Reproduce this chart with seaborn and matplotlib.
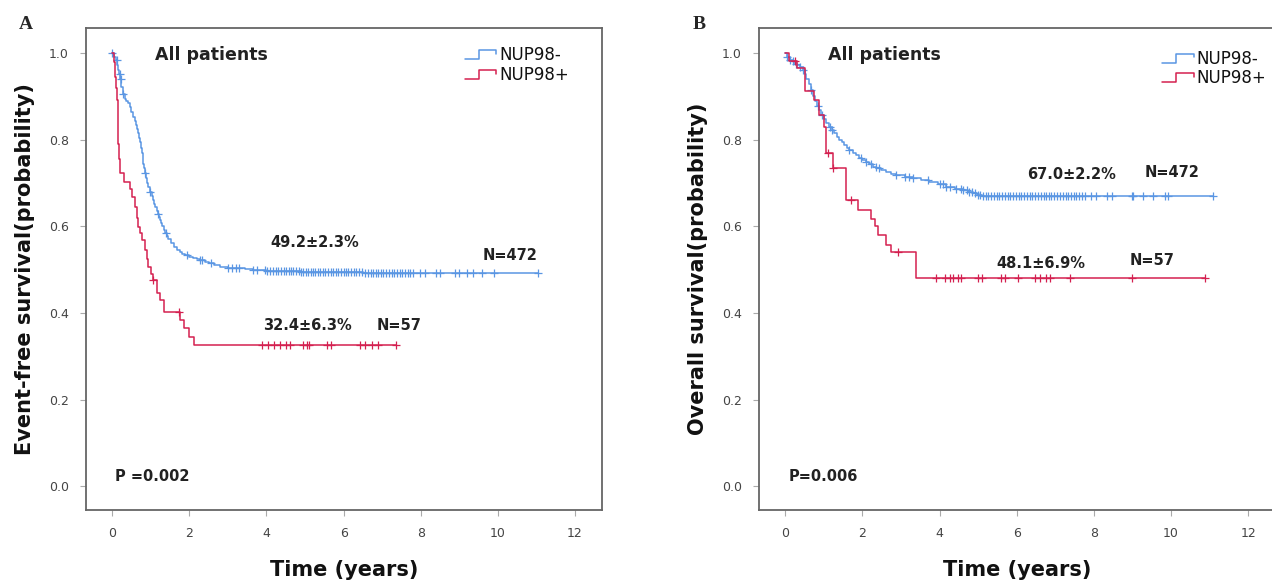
import numpy as np
import matplotlib
matplotlib.use("Agg")
import matplotlib.pyplot as plt
import seaborn as sns
from matplotlib.lines import Line2D
from matplotlib.legend_handler import HandlerBase

sns.set_theme(style="white")
plt.rcParams['font.family'] = ['DejaVu Sans']

# ---- data ----
groups = ["NUP98-", "NUP98+"]
colors = ["#5A96E3", "#D42050"]

# panel A: event-free survival
efs_neg_t = [0, 0.05, 0.1, 0.13, 0.15, 0.18, 0.2, 0.24, 0.27, 0.32, 0.37, 0.42, 0.46, 0.5,
             0.55, 0.59, 0.62, 0.65, 0.68, 0.7, 0.72, 0.75, 0.77, 0.79, 0.8, 0.82, 0.84, 0.87,
             0.9, 0.94, 0.98, 1.02, 1.05, 1.08, 1.11, 1.15, 1.18, 1.21, 1.24, 1.27, 1.3, 1.34,
             1.37, 1.41, 1.45, 1.52, 1.59, 1.67, 1.75, 1.82, 1.89, 2.0, 2.1, 2.2, 2.28, 2.4,
             2.5, 2.65, 2.8, 3.0, 3.2, 3.45, 3.66, 4.0, 4.3, 4.9, 5.5, 6.5, 7.5]
efs_neg_s = [1.0, 0.992, 0.984, 0.973, 0.962, 0.951, 0.94, 0.922, 0.905, 0.895, 0.89, 0.884,
             0.875, 0.865, 0.852, 0.843, 0.835, 0.825, 0.815, 0.805, 0.795, 0.782, 0.769,
             0.757, 0.745, 0.734, 0.723, 0.711, 0.70, 0.69, 0.679, 0.669, 0.66, 0.652, 0.644,
             0.636, 0.628, 0.621, 0.614, 0.607, 0.60, 0.592, 0.584, 0.577, 0.57, 0.561, 0.552,
             0.546, 0.54, 0.536, 0.533, 0.53, 0.527, 0.524, 0.522, 0.518, 0.515, 0.51, 0.506,
             0.504, 0.503, 0.501, 0.50, 0.498, 0.496, 0.495, 0.494, 0.493, 0.492]
efs_neg_cens = [0.0, 0.12, 0.19, 0.22, 0.29, 0.84, 0.98, 1.2, 1.39, 1.93, 2.28, 2.33, 2.55,
                3.0, 3.1, 3.2, 3.3, 3.66, 3.75, 3.95, 4.02, 4.1, 4.18, 4.24, 4.3, 4.37, 4.45,
                4.5, 4.58, 4.63, 4.7, 4.76, 4.83, 4.9, 4.95, 5.02, 5.08, 5.15, 5.2, 5.27, 5.33,
                5.4, 5.46, 5.52, 5.6, 5.66, 5.72, 5.8, 5.86, 5.93, 6.0, 6.05, 6.12, 6.2, 6.26,
                6.32, 6.4, 6.47, 6.55, 6.62, 6.7, 6.76, 6.83, 6.9, 6.96, 7.03, 7.1, 7.18, 7.25,
                7.3, 7.38, 7.45, 7.52, 7.6, 7.66, 7.72, 7.8, 7.98, 8.1, 8.4, 8.5, 8.9, 9.0,
                9.2, 9.35, 9.6, 9.9, 11.05]
efs_pos_t = [0, 0.04, 0.08, 0.1, 0.12, 0.14, 0.16, 0.18, 0.19, 0.31, 0.45, 0.51, 0.6, 0.65,
             0.68, 0.72, 0.77, 0.85, 0.9, 0.94, 1.0, 1.07, 1.16, 1.24, 1.33, 1.76, 1.85, 1.98, 2.11]
efs_pos_s = [1.0, 0.98, 0.945, 0.92, 0.891, 0.84, 0.791, 0.755, 0.723, 0.703, 0.686, 0.668,
             0.645, 0.62, 0.599, 0.585, 0.568, 0.545, 0.525, 0.506, 0.49, 0.476, 0.446, 0.43,
             0.403, 0.383, 0.365, 0.345, 0.325]
efs_pos_cens = [1.07, 1.72, 3.88, 4.05, 4.2, 4.35, 4.5, 4.6, 4.95, 5.04, 5.1, 5.56, 5.66,
                6.42, 6.55, 6.73, 6.9, 7.37]

# panel B: overall survival
os_neg_t = [0, 0.05, 0.12, 0.19, 0.25, 0.3, 0.38, 0.45, 0.5, 0.55, 0.61, 0.67, 0.72, 0.78,
            0.83, 0.88, 0.94, 1.0, 1.07, 1.14, 1.2, 1.27, 1.33, 1.4, 1.47, 1.53, 1.6, 1.66,
            1.75, 1.83, 1.92, 2.0, 2.09, 2.18, 2.27, 2.36, 2.48, 2.6, 2.74, 2.88, 3.1, 3.31,
            3.52, 3.74, 3.95, 4.17, 4.4, 4.61, 4.74, 4.86, 4.98, 5.1]
os_neg_s = [1.0, 0.99, 0.985, 0.981, 0.976, 0.972, 0.967, 0.962, 0.952, 0.94, 0.928, 0.915,
            0.902, 0.89, 0.879, 0.868, 0.858, 0.848, 0.839, 0.83, 0.822, 0.815, 0.807, 0.80,
            0.794, 0.788, 0.782, 0.776, 0.77, 0.764, 0.758, 0.753, 0.748, 0.743, 0.738, 0.734,
            0.73, 0.726, 0.722, 0.718, 0.714, 0.711, 0.707, 0.703, 0.697, 0.691, 0.687, 0.684,
            0.68, 0.676, 0.673, 0.670]
os_neg_cens = [0.05, 0.12, 0.2, 0.28, 0.38, 0.45, 0.67, 0.85, 0.95, 1.15, 1.22, 1.66, 1.96,
               2.09, 2.22, 2.35, 2.44, 2.88, 3.1, 3.22, 3.31, 3.7, 4.0, 4.09, 4.17, 4.26, 4.43,
               4.55, 4.62, 4.7, 4.77, 4.85, 4.92, 5.0, 5.06, 5.13, 5.2, 5.27, 5.34, 5.4, 5.48,
               5.55, 5.62, 5.7, 5.77, 5.84, 5.9, 5.98, 6.05, 6.12, 6.2, 6.27, 6.34, 6.4, 6.48,
               6.55, 6.62, 6.7, 6.77, 6.84, 6.9, 6.98, 7.05, 7.12, 7.2, 7.27, 7.34, 7.4, 7.48,
               7.55, 7.62, 7.7, 7.77, 7.94, 8.07, 8.33, 8.46, 8.98, 9.02, 9.28, 9.54, 9.85,
               9.93, 11.1]
os_pos_t = [0, 0.1, 0.3, 0.52, 0.75, 0.88, 1.0, 1.05, 1.23, 1.58, 1.88, 2.23, 2.32, 2.4,
            2.62, 2.75, 3.4]
os_pos_s = [1.0, 0.982, 0.965, 0.912, 0.891, 0.857, 0.83, 0.77, 0.734, 0.66, 0.637, 0.618,
            0.60, 0.58, 0.558, 0.541, 0.481]
os_pos_cens = [0.26, 1.1, 1.25, 1.71, 2.92, 3.91, 4.13, 4.26, 4.35, 4.47, 4.56, 4.99, 5.1,
               5.6, 5.69, 6.03, 6.47, 6.6, 6.77, 6.86, 7.38, 8.98, 10.88]

x_ticks = [0, 2, 4, 6, 8, 10, 12]
y_ticks = [0.0, 0.2, 0.4, 0.6, 0.8, 1.0]


class StepHandler(HandlerBase):
    # legend icon shaped like a small step
    def create_artists(self, legend, orig_handle, xdescent, ydescent, width, height,
                       fontsize, trans):
        xs = np.array([0, 0.45, 0.45, 1, 1]) * width - xdescent
        ys = np.array([0.1, 0.1, 0.85, 0.85, 0.55]) * height - ydescent
        return [Line2D(xs, ys, color=orig_handle.get_color(), lw=1.1, transform=trans)]


def km(ax, t, s, cens, color):
    t = np.array(t)
    s = np.array(s)
    cens = np.array(cens)
    xs = np.append(t, max(cens.max(), t.max()))
    ys = np.append(s, s[-1])
    sns.lineplot(x=xs, y=ys, drawstyle="steps-post", estimator=None, sort=False,
                 color=color, lw=1.1, ax=ax)
    idx = np.searchsorted(t, cens, side="right") - 1
    ax.plot(cens, s[idx], ls="none", marker="+", ms=6, mew=0.9, color=color)


fig = plt.figure(figsize=(12.72, 5.81), dpi=100)
ax_a = fig.add_axes([0.0676, 0.1222, 0.4057, 0.8296])
ax_b = fig.add_axes([0.5967, 0.1222, 0.4057, 0.8296])

km(ax_a, efs_neg_t, efs_neg_s, efs_neg_cens, colors[0])
km(ax_a, efs_pos_t, efs_pos_s, efs_pos_cens, colors[1])
km(ax_b, os_neg_t, os_neg_s, os_neg_cens, colors[0])
km(ax_b, os_pos_t, os_pos_s, os_pos_cens, colors[1])

panels = [
    (ax_a, "Event-free survival(probability)", "P =0.002",
     [("49.2±2.3%", 4.1, 0.563), ("N=472", 9.6, 0.533), ("32.4±6.3%", 3.9, 0.372),
      ("N=57", 6.85, 0.372)], 0.734, 0.962),
    (ax_b, "Overall survival(probability)", "P=0.006",
     [("67.0±2.2%", 6.26, 0.72), ("N=472", 9.32, 0.725), ("48.1±6.9%", 5.48, 0.515),
      ("N=57", 8.94, 0.52)], 0.781, 0.955),
]

for ax, ylab, ptxt, notes, lx, ly in panels:
    ax.set_xlim(-0.68, 12.7)
    ax.set_ylim(-0.055, 1.058)
    ax.set_xticks(x_ticks)
    ax.set_yticks(y_ticks)
    ax.set_yticklabels([f"{v:.1f}" for v in y_ticks])
    ax.tick_params(axis="both", direction="out", length=4.5, width=0.8, color="#aaaaaa",
                   pad=8, labelsize=9, labelcolor="#444444", bottom=True, left=True)
    for sp in ax.spines.values():
        sp.set_color("#666666")
        sp.set_linewidth(1.3)
    ax.set_xlabel("Time (years)", fontsize=15, fontweight="bold", color="#111111", labelpad=14)
    ax.set_ylabel(ylab, fontsize=15, fontweight="bold", color="#111111", labelpad=10)
    ax.text(1.12, 0.995, "All patients", fontsize=12.5, fontweight="bold", color="#222222",
            ha="left", va="center")
    ax.text(0.08, 0.023, ptxt, fontsize=10.5, fontweight="bold", color="#222222",
            ha="left", va="center")
    for txt, x, y in notes:
        ax.text(x, y, txt, fontsize=10.5, fontweight="bold", color="#222222",
                ha="left", va="center")
    handles = [Line2D([], [], color=c) for c in colors]
    ax.legend(handles, groups, loc="upper left", bbox_to_anchor=(lx, ly), frameon=False,
              fontsize=12, handlelength=1.9, handletextpad=0.15, labelspacing=0.1,
              borderpad=0, borderaxespad=0, handler_map={Line2D: StepHandler()},
              labelcolor="#111111")

fig.text(0.0204, 0.957, "A", fontsize=14, fontweight="bold", family="Liberation Serif",
         ha="center", va="center")
fig.text(0.550, 0.957, "B", fontsize=14, fontweight="bold", family="Liberation Serif",
         ha="center", va="center")

fig.savefig("out.png", dpi=100)
